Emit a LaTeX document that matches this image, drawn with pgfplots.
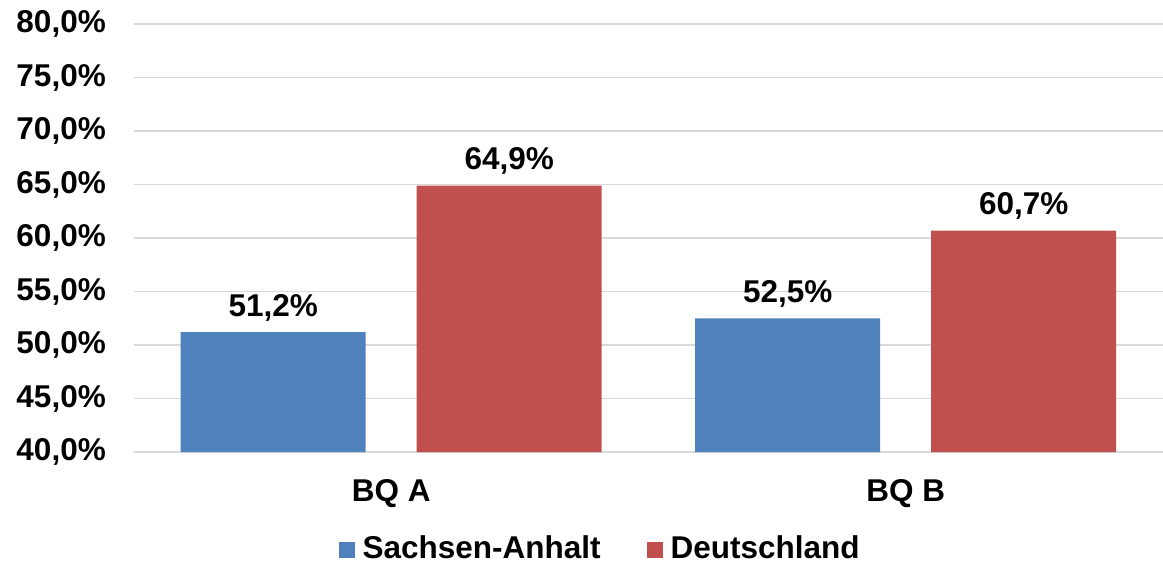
\documentclass[border=0pt]{standalone}
\usepackage{fontspec}
\setmainfont{Liberation Sans}
\usepackage{pgfplots}
\pgfplotsset{compat=1.18}
\definecolor{sablue}{HTML}{4F81BD}
\definecolor{dered}{HTML}{C0504D}
\definecolor{gridgray}{HTML}{D9D9D9}
\newcommand{\chfont}{\fontsize{31.5bp}{38bp}\selectfont\bfseries}
\begin{document}
\chfont
\begin{tikzpicture}
\useasboundingbox (-134bp,-111bp) rectangle (1029bp,452bp);
\begin{axis}[
  at={(0,0)}, anchor=south west,
  scale only axis, width=1029bp, height=428bp,
  xmin=-0.5, xmax=1.5, ymin=40, ymax=80,
  ytick={40,45,...,80},
  xtick={0,1}, xticklabels={BQ A, BQ B},
  ymajorgrids, grid style={gridgray, line width=1.5bp},
  axis line style={draw=none},
  major tick length=0pt,
  tick label style={font=\chfont},
  /pgf/number format/assume math mode=true,
  yticklabel={\pgfmathprintnumber[fixed,fixed zerofill,precision=1,use comma]{\tick}\%},
  yticklabel style={anchor=east, inner sep=0pt, xshift=-28bp},
  xticklabel style={anchor=north, inner sep=0pt, yshift=-27bp},
  ybar, bar width=185bp,
  nodes near coords={\pgfmathprintnumber[fixed,fixed zerofill,precision=1,use comma]{\pgfplotspointmeta}\%},
  every node near coord/.append style={font=\chfont, anchor=base, inner sep=0pt, yshift=16bp, text=black},
  legend style={at={(0.453,-0.228)}, anchor=center, draw=none, fill=none, font=\chfont,
    legend columns=2, /tikz/every even column/.append style={column sep=44bp},
    /tikz/every odd column/.append style={column sep=0pt}},
  legend cell align=left,
  legend image code/.code={\fill[#1] (0bp,-8bp) rectangle (16bp,8bp); \path (22bp,0bp);},
]
\addplot[fill=sablue, draw=none, bar shift=-118bp] coordinates {(0,51.2) (1,52.5)};
\addplot[fill=dered, draw=none, bar shift=118bp] coordinates {(0,64.9) (1,60.7)};
\legend{Sachsen-Anhalt, Deutschland}
\end{axis}
\end{tikzpicture}
\end{document}
